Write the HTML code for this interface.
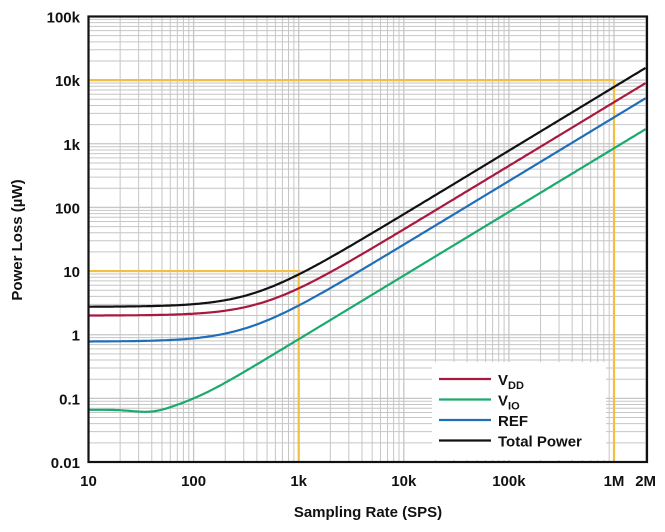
<!DOCTYPE html><html><head><meta charset="utf-8"><style>
body{margin:0;background:#fff}svg text{font-family:"Liberation Sans",sans-serif;font-weight:bold;fill:#111}
</style></head><body>
<svg id="s" width="665" height="527" xmlns="http://www.w3.org/2000/svg"></svg>
<script>
const L=88.5,R=647,T=16.5,B=462,dx=105.1,dy=(B-T)/7;
const X=f=>L+(Math.log10(f)-1)*dx, Y=v=>B-(Math.log10(v)+2)*dy;
let h='';
for(let d=1;d<=6;d++)for(let m=1;m<10;m++){const f=m*Math.pow(10,d);if(f>2e6)break;const x=X(f);h+=`<line x1="${x}" y1="${T}" x2="${x}" y2="${B}" stroke="#c6c6c6" stroke-width="${m==1?1.3:1}"/>`;}
for(let d=-2;d<=5;d++)for(let m=1;m<10;m++){const v=m*Math.pow(10,d);if(v>1e5)break;const y=Y(v);h+=`<line x1="${L}" y1="${y}" x2="${R}" y2="${y}" stroke="#c6c6c6" stroke-width="${m==1?1.3:1}"/>`;}
const yc='#f2c040';
h+=`<polyline points="${L},${Y(1e4)} ${X(1e6)},${Y(1e4)} ${X(1e6)},${B}" fill="none" stroke="${yc}" stroke-width="2.2"/>`;
h+=`<polyline points="${L},${Y(10)} ${X(1e3)},${Y(10)} ${X(1e3)},${B}" fill="none" stroke="${yc}" stroke-width="2.2"/>`;
function curve(fn,c){let p=[];for(let i=0;i<=300;i++){const lf=1+i/300*(Math.log10(2e6)-1);const f=Math.pow(10,lf);p.push(X(f).toFixed(1)+','+Y(fn(f)).toFixed(1));}return `<polyline points="${p.join(' ')}" fill="none" stroke="${c}" stroke-width="2.2"/>`;}
const P=(a,b,p)=>f=>Math.pow(Math.pow(a,p)+Math.pow(b*f,p),1/p);
h+=curve(f=>P(0.066,0.00085,2.5)(f)*(1-0.12*Math.exp(-Math.pow(Math.log10(f)-1.6,2)/0.06)),'#1aaa6e');
h+=curve(P(0.78,0.0026,1.5),'#1f6fb8');
h+=curve(P(2.0,0.0045,1.5),'#a8193f');
h+=curve(P(2.75,0.0078,1.5),'#111');
h+=`<rect x="432" y="362" width="174" height="98" fill="#fff"/>`;
const lg=[['#a8193f','V','DD'],['#1aaa6e','V','IO'],['#1f6fb8','REF',''],['#111','Total Power','']];
lg.forEach((e,i)=>{const y=379+i*20.5;h+=`<line x1="439" y1="${y}" x2="491" y2="${y}" stroke="${e[0]}" stroke-width="2.2"/><text x="498" y="${y+6}" font-size="15">${e[1]}${e[2]?`<tspan font-size="11" dy="4">${e[2]}</tspan>`:''}</text>`;});
h+=`<rect x="${L}" y="${T}" width="${R-L}" height="${B-T}" fill="none" stroke="#111" stroke-width="2.2"/>`;
const yl=['0.01','0.1','1','10','100','1k','10k','100k'];
yl.forEach((t,i)=>{h+=`<text x="80" y="${B-i*dy+6}" font-size="15" text-anchor="end">${t}</text>`;});
const xl=[[10,'10'],[100,'100'],[1e3,'1k'],[1e4,'10k'],[1e5,'100k'],[1e6,'1M'],[2e6,'2M']];
xl.forEach(e=>{h+=`<text x="${X(e[0])}" y="486" font-size="15" text-anchor="middle">${e[1]}</text>`;});
h+=`<text x="368" y="517" font-size="15" text-anchor="middle">Sampling Rate (SPS)</text>`;
h+=`<text transform="translate(22,240) rotate(-90)" font-size="15" text-anchor="middle">Power Loss (µW)</text>`;
document.getElementById('s').innerHTML=h;
</script></body></html>
